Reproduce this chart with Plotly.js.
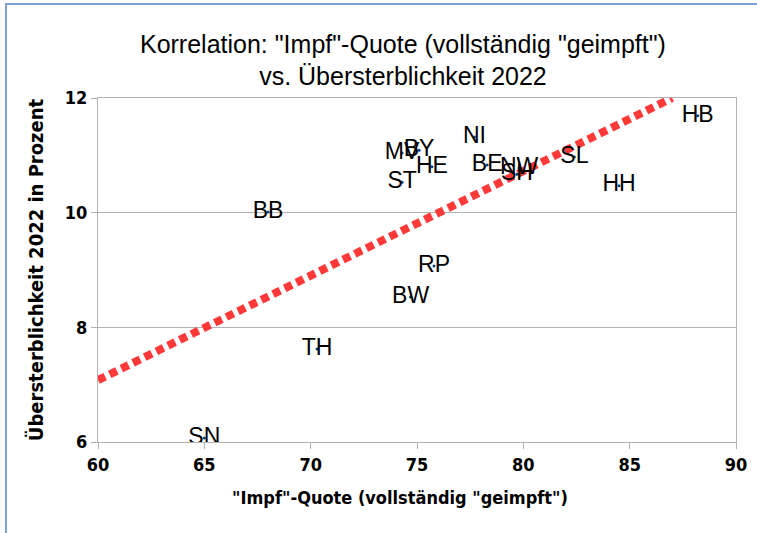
<!DOCTYPE html>
<html>
<head>
<meta charset="utf-8">
<script src="https://cdn.plot.ly/plotly-3.0.1.min.js"></script>
<style>
html,body{margin:0;padding:0;background:#fff;}
#wrap{position:relative;width:757px;height:533px;}
#chart{position:absolute;left:0;top:0;width:757px;height:533px;}
#frame{position:absolute;left:5px;top:3px;right:0;bottom:0;border-left:2px solid #7f9fdc;border-top:2px solid #7f9fdc;pointer-events:none;}
</style>
</head>
<body>
<div id="wrap"><div id="chart"></div><div id="frame"></div></div>
<script>
// Bundesländer
const states = ["HB","HH","SL","NW","SH","BE","NI","HE","BY","MV","ST","BB","RP","BW","TH","SN"];
// "Impf"-Quote (vollständig "geimpft") in %
const vaccRate = [88.2, 84.5, 82.4, 79.8, 79.7, 78.3, 77.7, 75.7, 75.1, 74.3, 74.3, 68.0, 75.8, 74.7, 70.3, 65.0];
// Übersterblichkeit 2022 in %
const excessMort = [11.69, 10.47, 10.97, 10.78, 10.67, 10.83, 11.32, 10.80, 11.09, 11.04, 10.53, 10.01, 9.07, 8.53, 7.62, 6.07];
// Trendlinie (Endpunkte)
const trendX = [60, 87];
const trendY = [7.08, 12.0];
const xTicks = [60, 65, 70, 75, 80, 85, 90];
const yTicks = [6, 8, 10, 12];
const xTitle = "\"Impf\"-Quote (vollständig \"geimpft\")";
const yTitle = "Übersterblichkeit 2022 in Prozent";

const cond = "'DejaVu Sans Condensed', 'DejaVu Sans', sans-serif";

const data = [
  {
    x: trendX, y: trendY, mode: "lines", type: "scatter",
    line: {color: "#ff3838", width: 8, dash: "8px,5px"},
    hoverinfo: "skip", showlegend: false
  },
  {
    x: vaccRate, y: excessMort, text: states, mode: "markers+text", type: "scatter",
    textposition: "middle center",
    textfont: {family: "'Liberation Sans', Arial, sans-serif", size: 23, color: "#000"},
    marker: {color: "#004586", size: 3},
    showlegend: false
  }
];

const layout = {
  width: 757, height: 533,
  margin: {l: 98, r: 21, t: 98, b: 91},
  paper_bgcolor: "#fff", plot_bgcolor: "#fff",
  title: {
    text: "Korrelation: \"Impf\"-Quote (vollständig \"geimpft\")<br>vs. Übersterblichkeit 2022",
    font: {family: "'Liberation Sans', Arial, sans-serif", size: 25, color: "#000"},
    x: 0.478, xanchor: "center", xref: "paper", y: 0.901, yanchor: "middle"
  },
  xaxis: {
    range: [60, 90], tickvals: xTicks, ticktext: xTicks.map(String),
    showgrid: false, zeroline: false,
    showline: true, linecolor: "#b3b3b3", linewidth: 1, mirror: true,
    ticks: "outside", ticklen: 6, tickcolor: "#b3b3b3",
    tickfont: {family: cond, size: 18, weight: "bold", color: "#000"}
  },
  yaxis: {
    range: [6, 12], tickvals: yTicks, ticktext: yTicks.map(String),
    showgrid: true, gridcolor: "#b3b3b3", gridwidth: 1, zeroline: false,
    showline: true, linecolor: "#b3b3b3", linewidth: 1, mirror: true,
    ticks: "outside", ticklen: 6, tickcolor: "#b3b3b3",
    tickfont: {family: cond, size: 18, weight: "bold", color: "#000"},
    title: {text: yTitle, standoff: 15,
      font: {family: cond, size: 20, weight: "bold", color: "#000"}}
  },
  annotations: [{
    text: xTitle, xref: "paper", yref: "paper", x: 0.473, y: -0.16,
    xanchor: "center", yanchor: "middle", showarrow: false,
    font: {family: cond, size: 18, weight: "bold", color: "#000"}
  }]
};

Plotly.newPlot("chart", data, layout, {staticPlot: true, displayModeBar: false});
</script>
</body>
</html>
